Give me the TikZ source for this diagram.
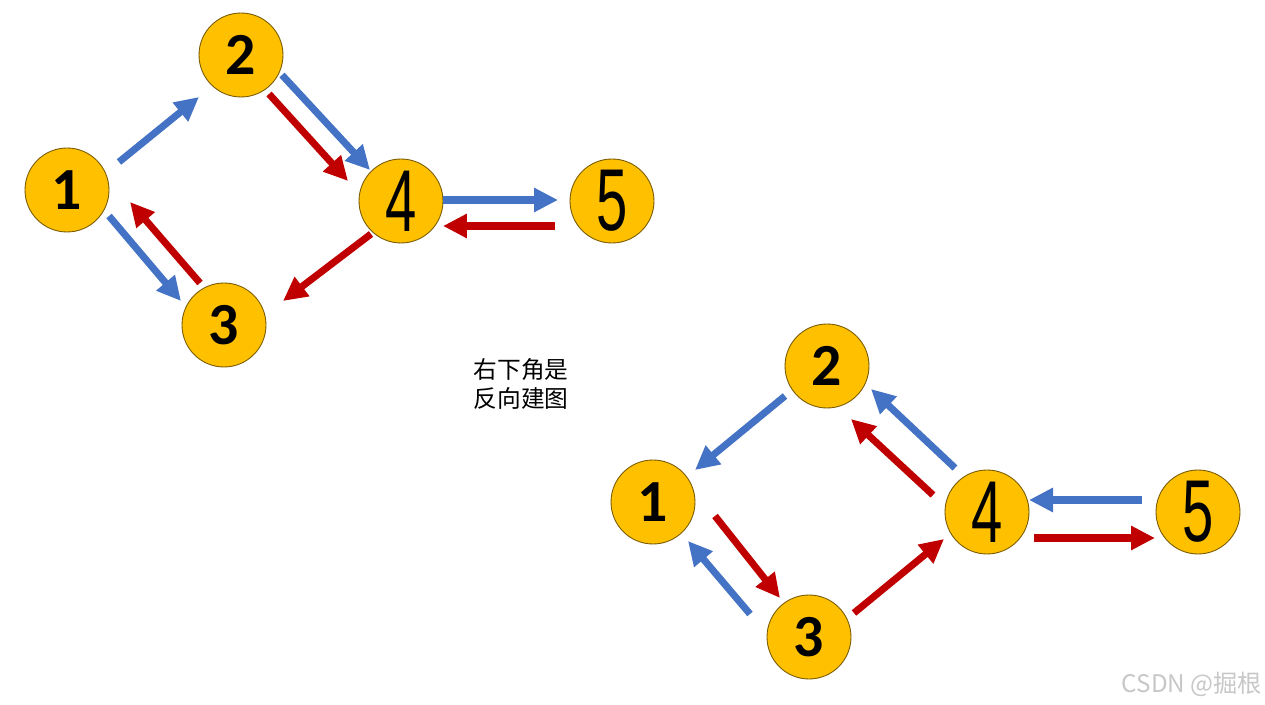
\documentclass[tikz,border=0pt]{standalone}
\usepackage{fontspec}
\usepackage{graphicx}
\newfontfamily\numfont{Carlito}
\newfontfamily\thinfont{Liberation Sans}
\newfontfamily\cjk{Noto Sans CJK SC}
\usetikzlibrary{calc,arrows.meta}
\definecolor{nodefill}{RGB}{255,192,0}
\definecolor{nodeline}{RGB}{120,90,0}
\definecolor{barrow}{RGB}{68,114,196}
\definecolor{rarrow}{RGB}{192,0,0}

\begin{document}
\begin{tikzpicture}[x=0.02cm, y=-0.02cm,
        vert/.style={circle, fill=nodefill, draw=nodeline, line width=0.5pt, minimum size=1.68cm, inner sep=0pt},
        boldnum/.style={font=\numfont\bfseries\fontsize{34}{34}\selectfont},
        thinnum/.style={font=\thinfont\fontsize{50}{50}\selectfont},
        barr/.style={draw, barrow, line width=4pt, -{Triangle[length=0.48cm, width=0.46cm]}},
        rarr/.style={draw, rarrow, line width=4pt, -{Triangle[length=0.48cm, width=0.46cm]}}]
                \useasboundingbox (0,0) rectangle (1265,705);

                \node[vert, boldnum](t1)at(67,190){1};
                \node[vert, boldnum](t2)at(241,55){2};
                \node[vert, boldnum](t3)at(224,325){3};
                \node[vert, thinnum](t4)at(401,201){\scalebox{0.64}[1]{4}};
                \node[vert, thinnum](t5)at(612,201){\scalebox{0.64}[1]{5}};

                \path[barr]($(t1)+(52,-28)$)to($(t2)+(-42,42)$);
                \path[barr]($(t2)+(41,20)$)to($(t4)+(-31,-31)$);
                \path[rarr]($(t2)+(28,39)$)to($(t4)+(-53,-20)$);
                \path[barr]($(t4)+(42,-1)$)to($(t5)+(-54,-1)$);
                \path[rarr]($(t5)+(-57,25)$)to($(t4)+(42,25)$);
                \path[rarr]($(t4)+(-30,33)$)to($(t3)+(59,-24)$);
                \path[barr]($(t1)+(42,26)$)to($(t3)+(-43,-24)$);
                \path[rarr]($(t3)+(-24,-42)$)to($(t1)+(63,12)$);

                \node[align=center, font=\cjk\fontsize{13.5}{16}\selectfont](note)at(521,384){右下角是\\反向建图};

                \node[vert, boldnum](b1)at(653,502){1};
                \node[vert, boldnum](b2)at(827,366){2};
                \node[vert, boldnum](b3)at(809,637){3};
                \node[vert, thinnum](b4)at(987,512){\scalebox{0.64}[1]{4}};
                \node[vert, thinnum](b5)at(1198,512){\scalebox{0.64}[1]{5}};

                \path[barr]($(b2)+(-42,30)$)to($(b1)+(42,-32)$);
                \path[barr]($(b4)+(-32,-44)$)to($(b2)+(44,23)$);
                \path[rarr]($(b4)+(-54,-17)$)to($(b2)+(24,53)$);
                \path[barr]($(b5)+(-56,-12)$)to($(b4)+(42,-12)$);
                \path[rarr]($(b4)+(47,26)$)to($(b5)+(-43,26)$);
                \path[rarr]($(b3)+(45,-24)$)to($(b4)+(-43,27)$);
                \path[rarr]($(b1)+(62,14)$)to($(b3)+(-29,-39)$);
                \path[barr]($(b3)+(-59,-23)$)to($(b1)+(35,39)$);

                \node[text=black!22, font=\cjk\fontsize{13.8}{14}\selectfont](mark)at(1192,684){CSDN @掘根};
            \end{tikzpicture}
\end{document}
